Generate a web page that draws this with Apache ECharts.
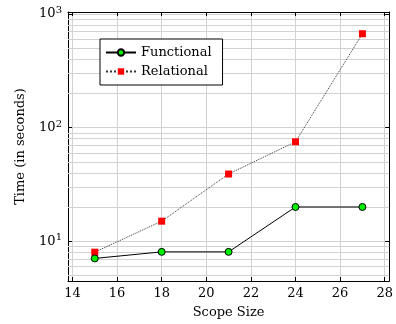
<!DOCTYPE html>
<html>
<head>
<meta charset="utf-8">
<script src="https://cdn.jsdelivr.net/npm/echarts@6/dist/echarts.min.js"></script>
<style>
html, body { margin: 0; padding: 0; background: #fff; }
#chart { width: 396px; height: 324px; }
</style>
</head>
<body>
<div id="chart"></div>
<script>
// scope sizes and timings (seconds)
var scopeSizes = [15, 18, 21, 24, 27];
var functional = [7.05, 8.05, 8.05, 20, 20];
var relational = [8, 15, 39, 75, 670];
var xTicks = [14, 16, 18, 20, 22, 24, 26, 28];
var minorTicks = [5, 6, 7, 8, 9, 20, 30, 40, 50, 60, 70, 80, 90, 200, 300, 400, 500, 600, 700, 800, 900];

var font = 'DejaVu Serif';
var gridColor = '#d2d2d2';

function pairs(xs, ys) {
    return xs.map(function (x, i) { return [x, ys[i]]; });
}

var chart = echarts.init(document.getElementById('chart'));

var xAxisBase = {
    type: 'value',
    min: 13.8,
    max: 28.2,
    axisLine: { show: true, onZero: false, lineStyle: { color: '#000', width: 1 } },
    axisTick: { show: true, inside: true, length: 4, customValues: xTicks, lineStyle: { color: '#000' } },
    splitLine: { show: false }
};

var yAxisBase = {
    type: 'log',
    logBase: 10,
    min: 4.46,
    max: 1041,
    axisLine: { show: true, lineStyle: { color: '#000', width: 1 } },
    axisTick: { show: true, inside: true, length: 4, lineStyle: { color: '#000' } },
    splitLine: { show: false }
};

var option = {
    animation: false,
    grid: { left: 68, right: 2, top: 12, bottom: 42 },
    textStyle: { fontFamily: font },
    legend: {
        orient: 'vertical',
        left: 100,
        top: 39,
        padding: [7, 11, 7, 5],
        itemGap: 6,
        itemWidth: 30,
        itemHeight: 8,
        borderColor: '#000',
        borderWidth: 1,
        backgroundColor: '#fff',
        z: 10,
        textStyle: { fontFamily: font, fontSize: 13, color: '#000' },
        data: ['Functional', 'Relational']
    },
    xAxis: [
        Object.assign({}, xAxisBase, {
            position: 'bottom',
            name: 'Scope Size',
            nameLocation: 'middle',
            nameGap: 25,
            nameTextStyle: { fontFamily: font, fontSize: 13, color: '#000' },
            axisLabel: { customValues: xTicks, color: '#000', fontSize: 13, fontFamily: font, margin: 6 },
            splitLine: { show: true, lineStyle: { color: gridColor, width: 1 } }
        }),
        Object.assign({}, xAxisBase, {
            position: 'top',
            axisLabel: { show: false }
        })
    ],
    yAxis: [
        Object.assign({}, yAxisBase, {
            position: 'left',
            name: 'Time (in seconds)',
            nameLocation: 'middle',
            nameGap: 41,
            nameTextStyle: { fontFamily: font, fontSize: 13, color: '#000' },
            axisLabel: {
                color: '#000',
                fontSize: 13,
                fontFamily: font,
                margin: 6,
                showMinLabel: false,
                showMaxLabel: false,
                formatter: function (v) {
                    return '10{sup|' + Math.round(Math.log10(v)) + '}';
                },
                rich: {
                    sup: { fontSize: 10, fontFamily: font, color: '#000', verticalAlign: 'top', padding: [0, 0, 7, 0] }
                }
            },
            splitLine: { show: true, lineStyle: { color: gridColor, width: 1 } }
        }),
        Object.assign({}, yAxisBase, {
            position: 'right',
            axisLabel: { show: false }
        })
    ],
    series: [
        {
            // minor grid lines of the log axis
            type: 'line',
            data: [],
            silent: true,
            z: 1,
            markLine: {
                silent: true,
                z: 1,
                symbol: ['none', 'none'],
                label: { show: false },
                lineStyle: { color: gridColor, width: 1, type: 'solid' },
                data: minorTicks.map(function (v) { return { yAxis: v }; })
            }
        },
        {
            name: 'Relational',
            type: 'line',
            data: pairs(scopeSizes, relational),
            symbol: 'rect',
            symbolSize: 7,
            itemStyle: { color: '#ff0000', borderColor: '#ff0000', borderWidth: 0 },
            lineStyle: { color: '#333', width: 1, type: 'dotted' },
            z: 3
        },
        {
            name: 'Functional',
            type: 'line',
            data: pairs(scopeSizes, functional),
            symbol: 'circle',
            symbolSize: 7,
            itemStyle: { color: '#00ee00', borderColor: '#000', borderWidth: 1 },
            lineStyle: { color: '#000', width: 1, type: 'solid' },
            z: 4
        }
    ]
};

chart.setOption(option);
</script>
</body>
</html>
